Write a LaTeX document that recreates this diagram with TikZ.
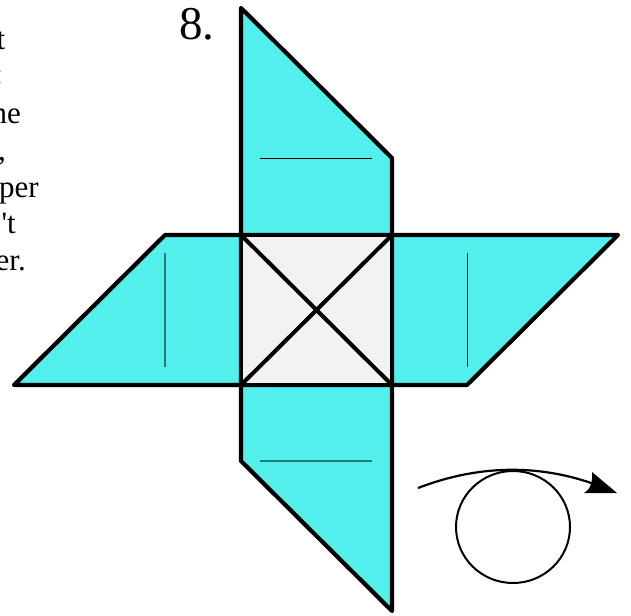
\documentclass[tikz,border=0pt]{standalone}
\usepackage{fontspec}
\setmainfont{Liberation Serif}
\definecolor{flap}{HTML}{52EFEC}
\definecolor{centre}{HTML}{F2F2F2}
\definecolor{foldteal}{HTML}{1F7F7D}
\tikzset{
  flapshape/.style={fill=flap,draw=black,line width=4.2pt,line join=round},
  centreshape/.style={fill=centre,draw=black,line width=4.2pt,line join=round},
  foldline/.style={draw=foldteal,line width=1.3pt},
  folddark/.style={draw=black,line width=1pt},
  body/.style={inner sep=0pt,anchor=base east,font=\fontsize{31}{31}\selectfont},
}
\begin{document}
\begin{tikzpicture}[x=1pt,y=-1pt]
\useasboundingbox (0,0) rectangle (631,615);
\clip (0,0) rectangle (631,615);
% square corners
\coordinate (a) at (241,235);
\coordinate (b) at (392,235);
\coordinate (c) at (392,385);
\coordinate (d) at (241,385);
% flaps
\draw[flapshape] (241,8) -- (392,158) -- (b) -- (a) -- cycle;
\draw[flapshape] (b) -- (618,235) -- (467,385) -- (c) -- cycle;
\draw[flapshape] (c) -- (392,611) -- (241,461) -- (d) -- cycle;
\draw[flapshape] (d) -- (14,385) -- (165,235) -- (a) -- cycle;
\draw[centreshape] (a) -- (b) -- (c) -- (d) -- cycle;
\draw[black,line width=4pt] (a) -- (c) (b) -- (d);
% fold lines
\draw[folddark] (260,158) -- (372,158);
\draw[foldline] (260,461) -- (372,461);
\draw[foldline] (165,253) -- (165,367);
\draw[folddark] (467,253) -- (467,367);
% roll symbol
\draw[black,line width=2pt] (513,527) ellipse [x radius=57,y radius=56];
\draw[black,line width=2.2pt] (418,488) .. controls (475,466) and (535,463) .. (594,484);
\fill[black] (592,472) -- (617,493) -- (584,493) .. controls (590,490) and (593,482) .. cycle;
% texts
\node[inner sep=0pt,anchor=base west,font=\fontsize{47}{47}\selectfont] (num) at (179,40) {8.};
\node[body] (t1) at (5.5,50) {t};
\node[body] (t2) at (3.3,85) {:};
\node[body] (t3) at (21,123) {ne};
\node[body] (t4) at (6,160) {,};
\node[body] (t5) at (39,197) {per};
\node[body] (t6) at (16,233) {\textquotesingle t};
\node[body] (t7) at (26,270) {er.};
\end{tikzpicture}
\end{document}
